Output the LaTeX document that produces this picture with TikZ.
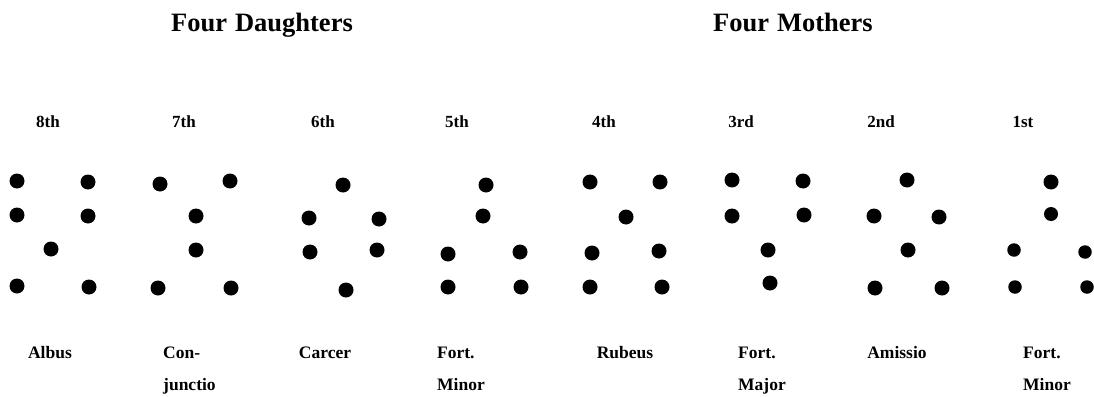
\documentclass[tikz,border=0pt]{standalone}
\usepackage{fontspec}
\setmainfont{Liberation Serif}
\begin{document}
\begin{tikzpicture}[x=1pt,y=-1pt,
  dot/.style={circle,fill=black,inner sep=0pt,minimum size=15pt},
  ttl/.style={inner sep=0pt,anchor=base,font=\fontsize{26.5}{28}\selectfont\bfseries},
  ord/.style={inner sep=0pt,anchor=base,font=\fontsize{17}{19}\selectfont\bfseries},
  nm/.style={inner sep=0pt,anchor=base,font=\fontsize{17.5}{19}\selectfont\bfseries},
  nml/.style={inner sep=0pt,anchor=base west,font=\fontsize{17.5}{19}\selectfont\bfseries}]
\useasboundingbox (0,0) rectangle (1094,396);
% titles
\node[ttl] (t1) at (262,32) {Four\hspace{0.3em}Daughters};
\node[ttl] (t2) at (793,32) {Four\hspace{0.3em}Mothers};
% ordinals
\node[ord] (o8) at (48,127) {8th};
\node[ord] (o7) at (184,127) {7th};
\node[ord] (o6) at (323,127) {6th};
\node[ord] (o5) at (457,127) {5th};
\node[ord] (o4) at (604,127) {4th};
\node[ord] (o3) at (741,127) {3rd};
\node[ord] (o2) at (881,127) {2nd};
\node[ord] (o1) at (1023,127) {1st};
% names
\node[nm] (n8) at (50,358) {Albus};
\node[nml] (n7a) at (163,358) {Con-};
\node[nml] (n7b) at (163,390) {junctio};
\node[nm] (n6) at (325,358) {Carcer};
\node[nml] (n5a) at (437,358) {Fort.};
\node[nml] (n5b) at (437,390) {Minor};
\node[nm] (n4) at (625,358) {Rubeus};
\node[nml] (n3a) at (738,358) {Fort.};
\node[nml] (n3b) at (738,390) {Major};
\node[nm] (n2) at (897,358) {Amissio};
\node[nml] (n1a) at (1023,358) {Fort.};
\node[nml] (n1b) at (1023,390) {Minor};
% 8th Albus
\node[dot] (a1) at (17,181) {};
\node[dot] (a2) at (88,182) {};
\node[dot] (a3) at (17,215) {};
\node[dot] (a4) at (88,216) {};
\node[dot] (a5) at (51,249) {};
\node[dot] (a6) at (17,286) {};
\node[dot] (a7) at (89,287) {};
% 7th Conjunctio
\node[dot] (c1) at (160,184) {};
\node[dot] (c2) at (230,181) {};
\node[dot] (c3) at (196,216) {};
\node[dot] (c4) at (196,250) {};
\node[dot] (c5) at (158,288) {};
\node[dot] (c6) at (231,288) {};
% 6th Carcer
\node[dot] (k1) at (343,185) {};
\node[dot] (k2) at (309,218) {};
\node[dot] (k3) at (379,219) {};
\node[dot] (k4) at (310,252) {};
\node[dot] (k5) at (377,250) {};
\node[dot] (k6) at (346,290) {};
% 5th Fortuna Minor
\node[dot] (f1) at (486,185) {};
\node[dot] (f2) at (483,216) {};
\node[dot] (f3) at (448,254) {};
\node[dot] (f4) at (520,252) {};
\node[dot] (f5) at (448,287) {};
\node[dot] (f6) at (521,287) {};
% 4th Rubeus
\node[dot] (r1) at (590,182) {};
\node[dot] (r2) at (660,182) {};
\node[dot] (r3) at (626,217) {};
\node[dot] (r4) at (592,253) {};
\node[dot] (r5) at (659,251) {};
\node[dot] (r6) at (590,287) {};
\node[dot] (r7) at (662,287) {};
% 3rd Fortuna Major
\node[dot] (m1) at (732,180) {};
\node[dot] (m2) at (803,181) {};
\node[dot] (m3) at (732,216) {};
\node[dot] (m4) at (804,215) {};
\node[dot] (m5) at (768,250) {};
\node[dot] (m6) at (770,283) {};
% 2nd Amissio
\node[dot] (s1) at (907,180) {};
\node[dot] (s2) at (874,216) {};
\node[dot] (s3) at (939,217) {};
\node[dot] (s4) at (908,250) {};
\node[dot] (s5) at (875,288) {};
\node[dot] (s6) at (942,288) {};
% 1st Fortuna Minor
\node[dot] (g1) at (1051,182) {};
\node[dot,minimum size=14pt] (g2) at (1051,214) {};
\node[dot,minimum size=13.5pt] (g3) at (1014,250) {};
\node[dot,minimum size=13.5pt] (g4) at (1085,252) {};
\node[dot,minimum size=13.5pt] (g5) at (1015,287) {};
\node[dot,minimum size=13.5pt] (g6) at (1087,287) {};
\end{tikzpicture}
\end{document}
